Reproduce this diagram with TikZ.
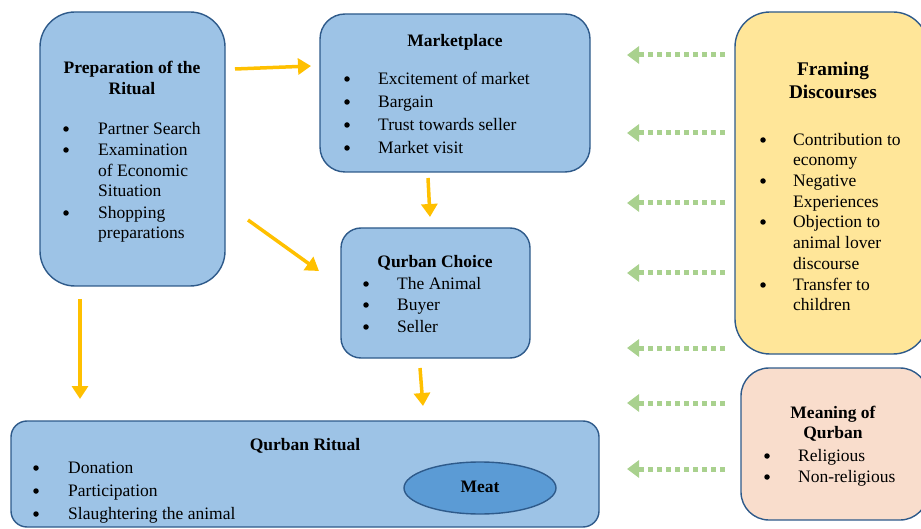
\documentclass[tikz,border=0pt]{standalone}
\usepackage{fontspec}
\setmainfont{Liberation Serif}
\usetikzlibrary{arrows.meta,shapes.geometric}
\definecolor{boxblue}{HTML}{9DC3E6}
\definecolor{boxedge}{HTML}{2E5A8A}
\definecolor{framefill}{HTML}{FFE699}
\definecolor{meanfill}{HTML}{F9DDCC}
\definecolor{meatfill}{HTML}{5B9BD5}
\definecolor{arrorange}{HTML}{FFC000}
\definecolor{arrgreen}{HTML}{A9D18E}
\tikzset{
  panel/.style={draw=boxedge, line width=1.4pt, inner sep=0pt},
  ttl/.style={font=\fontsize{17.5}{20.5}\selectfont\bfseries, align=center, inner sep=0pt},
  bigttl/.style={font=\fontsize{19.3}{23}\selectfont\bfseries, align=center, inner sep=0pt},
  itm/.style={font=\fontsize{17.5}{20}\selectfont, anchor=west, inner sep=0pt, text height=14pt, text depth=1.5pt},
  bulletdot/.style={circle, fill=black, inner sep=0pt, minimum size=5.5pt},
  flow/.style={draw=arrorange, line width=3.5pt, -{Triangle[length=13pt,width=16pt]}},
  framearrow/.style={draw=arrgreen, line width=5pt, dash pattern=on 5pt off 4pt, -{Triangle[length=12pt,width=17pt]}}
}
\begin{document}
\begin{tikzpicture}[x=1pt,y=-1pt]
\useasboundingbox (0,0) rectangle (921,529);
% boxes
\path[panel, fill=boxblue, rounded corners=35pt] (40,12) rectangle (225,286) node[pos=0.5] (prep) {};
\path[panel, fill=boxblue, rounded corners=25pt] (320,14) rectangle (590,172) node[pos=0.5] (mkt) {};
\path[panel, fill=boxblue, rounded corners=20pt] (341,228) rectangle (530,358) node[pos=0.5] (choice) {};
\path[panel, fill=boxblue, rounded corners=16pt] (11,421) rectangle (599,527) node[pos=0.5] (ritual) {};
\path[panel, fill=framefill, rounded corners=35pt] (735,12) rectangle (928,354) node[pos=0.5] (framing) {};
\path[panel, fill=meanfill, rounded corners=28pt] (741,368) rectangle (928,520) node[pos=0.5] (meaning) {};
\node[panel, fill=meatfill, ellipse, minimum width=152pt, minimum height=52pt] (meat) at (480,488) {};
\node[ttl] (meatlbl) at (480,487) {Meat};

% Preparation
\node[ttl] (prepttl) at (132,78) {Preparation of the\\Ritual};
\node[bulletdot] (pd1) at (66,129) {};
\node[itm] (pt1) at (98,128) {Partner Search};
\node[bulletdot] (pd2) at (66,150) {};
\node[itm] (pt2) at (98,149) {Examination};
\node[itm] (pt3) at (98,170) {of Economic};
\node[itm] (pt4) at (98,190) {Situation};
\node[bulletdot] (pd3) at (66,213) {};
\node[itm] (pt5) at (98,212) {Shopping};
\node[itm] (pt6) at (98,232) {preparations};

% Marketplace
\node[ttl] (mktttl) at (455,42) {Marketplace};
\node[bulletdot] (md1) at (347,79) {};
\node[itm] (mt1) at (378,78) {Excitement of market};
\node[bulletdot] (md2) at (347,102) {};
\node[itm] (mt2) at (378,101) {Bargain};
\node[bulletdot] (md3) at (347,125) {};
\node[itm] (mt3) at (378,124) {Trust towards seller};
\node[bulletdot] (md4) at (347,148) {};
\node[itm] (mt4) at (378,147) {Market visit};

% Qurban Choice
\node[ttl] (chttl) at (435,263) {Qurban Choice};
\node[bulletdot] (cd1) at (366,284) {};
\node[itm] (ct1) at (397,283) {The Animal};
\node[bulletdot] (cd2) at (366,305) {};
\node[itm] (ct2) at (397,304) {Buyer};
\node[bulletdot] (cd3) at (366,327) {};
\node[itm] (ct3) at (397,326) {Seller};

% Framing
\node[bigttl] (frttl) at (833,80) {Framing\\Discourses};
\node[bulletdot] (fd1) at (763,140) {};
\node[itm] (ft1) at (793,139) {Contribution to};
\node[itm] (ft2) at (793,159) {economy};
\node[bulletdot] (fd2) at (763,181) {};
\node[itm] (ft3) at (793,180) {Negative};
\node[itm] (ft4) at (793,201) {Experiences};
\node[bulletdot] (fd3) at (763,222) {};
\node[itm] (ft5) at (793,221) {Objection to};
\node[itm] (ft6) at (793,242) {animal lover};
\node[itm] (ft7) at (793,263) {discourse};
\node[bulletdot] (fd4) at (763,285) {};
\node[itm] (ft8) at (793,284) {Transfer to};
\node[itm] (ft9) at (793,304) {children};

% Meaning
\node[ttl] (mnttl) at (833,424) {Meaning of\\Qurban};
\node[bulletdot] (nd1) at (767,456) {};
\node[itm] (nt1) at (798,455) {Religious};
\node[bulletdot] (nd2) at (767,477) {};
\node[itm] (nt2) at (798,476) {Non-religious};

% Ritual
\node[ttl] (rittl) at (305,446) {Qurban Ritual};
\node[bulletdot] (rd1) at (36,468) {};
\node[itm] (rt1) at (68,467) {Donation};
\node[bulletdot] (rd2) at (36,491) {};
\node[itm] (rt2) at (68,490) {Participation};
\node[bulletdot] (rd3) at (36,514) {};
\node[itm] (rt3) at (68,513) {Slaughtering the animal};

% orange arrows
\coordinate (a1s) at (235,69); \coordinate (a1e) at (311,66);
\coordinate (a2s) at (248,220); \coordinate (a2e) at (319,271);
\coordinate (a3s) at (428,178); \coordinate (a3e) at (430,217);
\coordinate (a4s) at (80,299); \coordinate (a4e) at (80,399);
\coordinate (a5s) at (420,368); \coordinate (a5e) at (423,406);
\draw[flow] (a1s) -- (a1e);
\draw[flow] (a2s) -- (a2e);
\draw[flow] (a3s) -- (a3e);
\draw[flow] (a4s) -- (a4e);
\draw[flow] (a5s) -- (a5e);

% green dotted arrows
\foreach \yy/\nm in {55/g1,133/g2,203/g3,273/g4,348/g5,403/g6,469/g7}{
  \coordinate (\nm s) at (725,\yy);
  \coordinate (\nm e) at (627,\yy);
  \draw[framearrow] (\nm s) -- (\nm e);
}
\end{tikzpicture}
\end{document}
